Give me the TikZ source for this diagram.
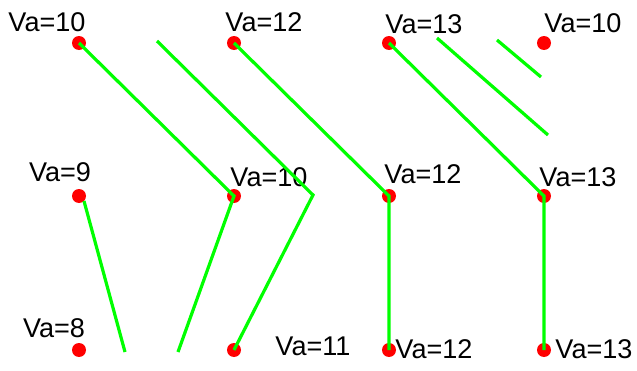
\documentclass[tikz,border=0pt]{standalone}
\usepackage{fontspec}
\setmainfont{Liberation Sans}
\begin{document}
\begin{tikzpicture}[x=0.75pt, y=-0.75pt, thick,
    dot/.style = {circle, fill=red, inner sep=0pt, minimum size=10.5pt},
    va/.style = {font=\fontsize{20.3}{21}\selectfont, inner sep=0pt},
    link/.style = {draw=green, line width=2.4pt}]
            \useasboundingbox (0,0) rectangle (637,371);
            % dots
            \node[dot] (a1) at (79,43) {};
            \node[dot] (a2) at (234,43) {};
            \node[dot] (a3) at (389,43) {};
            \node[dot] (a4) at (544,43) {};
            \node[dot] (b1) at (79,196) {};
            \node[dot] (b2) at (234,196) {};
            \node[dot] (b3) at (389,196) {};
            \node[dot] (b4) at (544,196) {};
            \node[dot] (c1) at (79,350) {};
            \node[dot] (c2) at (234,350) {};
            \node[dot] (c3) at (389,350) {};
            \node[dot] (c4) at (544,350) {};
            % labels
            \node[va] (la1) at (47,22) {Va=10};
            \node[va] (la2) at (264,22) {Va=12};
            \node[va] (la3) at (424,24) {Va=13};
            \node[va] (la4) at (583,23) {Va=10};
            \node[va] (lb1) at (60,172) {Va=9};
            \node[va] (lb2) at (269,177) {Va=10};
            \node[va] (lb3) at (423,174) {Va=12};
            \node[va] (lb4) at (578,177) {Va=13};
            \node[va] (lc1) at (54,328) {Va=8};
            \node[va] (lc2) at (313,346) {Va=11};
            \node[va] (lc3) at (434,349) {Va=12};
            \node[va] (lc4) at (594,349) {Va=13};
            % free ends
            \coordinate (p1) at (178,352);
            \coordinate (p2) at (157,41);
            \coordinate (p3) at (313,195);
            \coordinate (p4) at (84,201);
            \coordinate (p5) at (125,352);
            \coordinate (p6) at (437,38);
            \coordinate (p7) at (548,135);
            \coordinate (p8) at (497,40);
            \coordinate (p9) at (541,77);
            \path[link]
            (a1.center) -- (b2.center) -- (p1)
            (p2) -- (p3) -- (c2.center)
            (a2.center) -- (b3.center) -- (c3.center)
            (a3.center) -- (b4.center) -- (c4.center)
            (p4) -- (p5)
            (p6) -- (p7)
            (p8) -- (p9);
        \end{tikzpicture}
\end{document}
